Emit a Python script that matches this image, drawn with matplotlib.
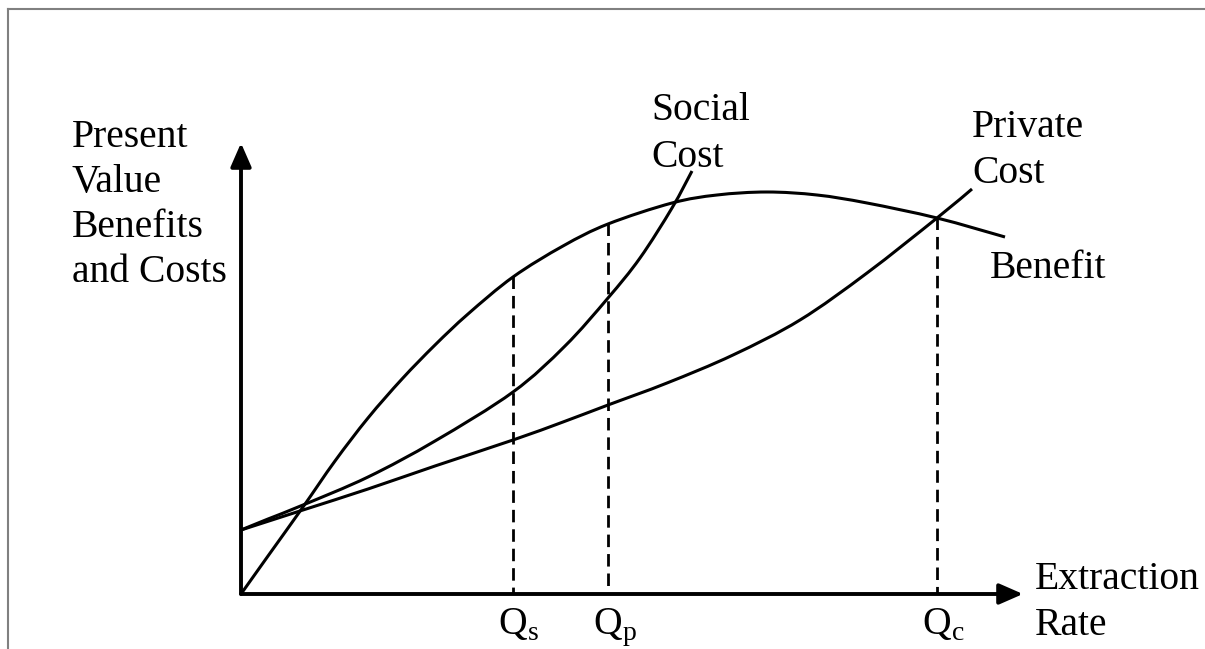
import matplotlib
matplotlib.use("Agg")
import matplotlib.pyplot as plt
from matplotlib.lines import Line2D
from matplotlib.patches import ArrowStyle, PathPatch
from matplotlib.path import Path

plt.rcParams["font.family"] = ["Liberation Serif", "DejaVu Serif"]
plt.rcParams["mathtext.fontset"] = "custom"
plt.rcParams["mathtext.rm"] = "Liberation Serif"

# curves (extraction rate, present value)
benefit_q = [0, 27, 62, 94, 127, 161, 194, 227, 272, 322, 367, 431, 476, 526, 576, 626, 696, 764]
benefit_v = [0, 38, 87, 133, 176, 215, 249, 280, 317, 348, 370, 391, 399, 402, 399, 391, 376, 357]

social_q = [0, 27, 62, 127, 194, 272, 324, 367, 399, 431, 451]
social_v = [64, 75, 89, 117, 153, 202, 248, 296, 336, 386, 423]

private_q = [0, 62, 127, 194, 272, 322, 367, 426, 492, 559, 626, 696, 731]
private_v = [64, 84, 105, 128, 154, 172, 189, 211, 239, 274, 321, 376, 405]

# equilibrium points: Qs, Qp, Qc
q_marks = [272, 367, 696]
q_tops = [318, 371, 377]
q_labels = [r"$\mathrm{Q}_\mathrm{s}$", r"$\mathrm{Q}_\mathrm{p}$", r"$\mathrm{Q}_\mathrm{c}$"]

x_max = 782
y_max = 451


def smooth_path(xs, ys):
    # catmull-rom through the read points, handed to matplotlib as bezier segments
    pts = list(zip(xs, ys))
    ext = [pts[0]] + pts + [pts[-1]]
    verts = [pts[0]]
    codes = [Path.MOVETO]
    for i in range(1, len(ext) - 2):
        p0, p1, p2, p3 = ext[i - 1], ext[i], ext[i + 1], ext[i + 2]
        c1 = (p1[0] + (p2[0] - p0[0]) / 6, p1[1] + (p2[1] - p0[1]) / 6)
        c2 = (p2[0] - (p3[0] - p1[0]) / 6, p2[1] - (p3[1] - p1[1]) / 6)
        verts += [c1, c2, p2]
        codes += [Path.CURVE4] * 3
    return Path(verts, codes)


fig = plt.figure(figsize=(12.05, 6.49), dpi=100)
ax = fig.add_axes([0, 0, 1, 1])
ax.set_xlim(-241, 964)
ax.set_ylim(-55, 594)
ax.axis("off")

# outer frame (top and left only)
fig.add_artist(Line2D([8 / 1205, 1], [1 - 9 / 649, 1 - 9 / 649], color="#808080", lw=1.5))
fig.add_artist(Line2D([8 / 1205, 8 / 1205], [0, 1 - 9 / 649], color="#808080", lw=1.5))

# axes with arrows
head = ArrowStyle("-|>", head_length=0.8, head_width=0.35)
for tip in [(0, y_max), (x_max, 0)]:
    ax.annotate("", xy=tip, xytext=(0, 0),
                arrowprops=dict(arrowstyle=head, lw=2.8, color="black",
                                mutation_scale=18, shrinkA=0, shrinkB=0))

lw = 2.2
for xs, ys in [(benefit_q, benefit_v), (social_q, social_v), (private_q, private_v)]:
    ax.add_patch(PathPatch(smooth_path(xs, ys), fill=False, edgecolor="black",
                           lw=lw, capstyle="butt"))

for q, top in zip(q_marks, q_tops):
    # draw from the curve down so the dash pattern starts at the curve
    ax.plot([q, q], [top, 0], color="black", lw=2.0, linestyle=(0, (4.5, 2.5)))

fs = 28.5
for i, line in enumerate(["Present", "Value", "Benefits", "and Costs"]):
    ax.text(-169, 447 - 45 * i, line, fontsize=fs, va="baseline", ha="left")

ax.text(410, 474, "Social", fontsize=fs, va="baseline")
ax.text(410, 427, "Cost", fontsize=fs, va="baseline")
ax.text(731, 457, "Private", fontsize=fs, va="baseline")
ax.text(731, 411, "Cost", fontsize=fs, va="baseline")
ax.text(749, 316, "Benefit", fontsize=fs, va="baseline")
ax.text(794, 5, "Extraction", fontsize=fs, va="baseline")
ax.text(794, -41, "Rate", fontsize=fs, va="baseline")

for q, lab in zip(q_marks, q_labels):
    ax.text(q - 15, -40, lab, fontsize=fs, va="baseline", ha="left")

fig.savefig("out.png", dpi=100)
